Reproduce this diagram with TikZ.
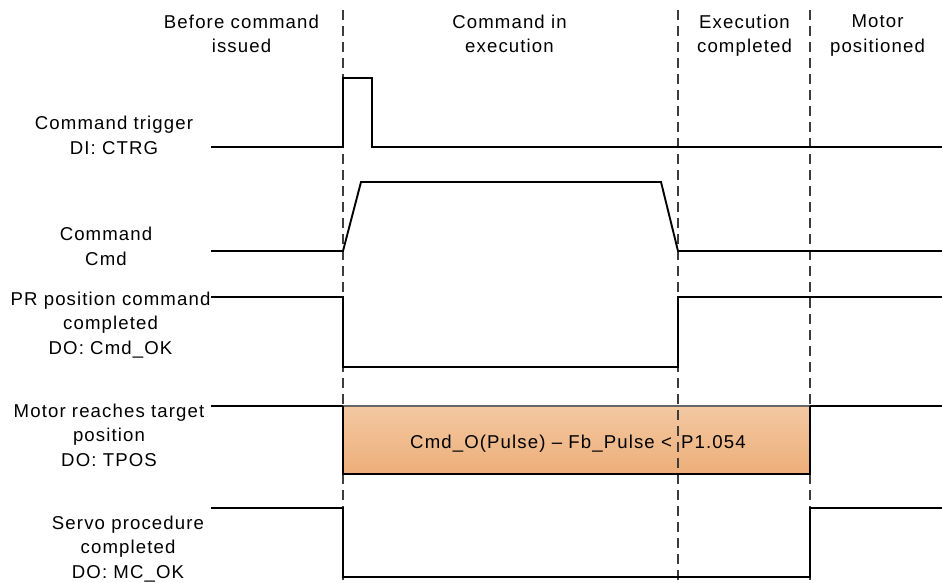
\documentclass[tikz,border=0pt]{standalone}
\usepackage{fontspec}
\setmainfont{Liberation Sans}[LetterSpace=6]
\definecolor{boxtop}{RGB}{243,200,162}
\definecolor{boxbot}{RGB}{237,174,121}
\definecolor{guidecol}{RGB}{60,60,60}
\tikzset{
  lbl/.style={font=\fontsize{18.6}{24.5}\selectfont, align=center, inner sep=0pt, anchor=north, text=black},
  sig/.style={line width=1.9pt, black, line join=miter},
  guide/.style={line width=1.4pt, guidecol, dash pattern=on 10pt off 6pt},
  boxedge/.style={line width=1.6pt, black!60},
}
\begin{document}
\begin{tikzpicture}[x=1pt, y=-1pt]
\useasboundingbox (0,0) rectangle (942,583);
% ---- TPOS box ----
\coordinate (bxTL) at (343,406);
\coordinate (bxBR) at (810,474);
\shade[top color=boxtop, bottom color=boxbot] (bxTL) rectangle (bxBR);
\node[font=\fontsize{18.6}{24.5}\selectfont, inner sep=0pt, anchor=base, text=black] (boxtxt) at (578,448) {Cmd\_O(Pulse) \textendash{} Fb\_Pulse <\ \kern3pt P1.054};
% ---- guide lines ----
\coordinate (g1t) at (343,10); \coordinate (g1b) at (343,583);
\coordinate (g2t) at (678,10); \coordinate (g2b) at (678,583);
\coordinate (g3t) at (810,10); \coordinate (g3b) at (810,583);
\draw[guide] (g1t) -- (g1b);
\draw[guide] (g2t) -- (g2b);
\draw[guide] (g3t) -- (g3b);
% ---- box edges ----
\draw[boxedge] (bxTL) -- (bxTL -| bxBR);
\draw[sig] (bxTL) -- (bxTL |- bxBR) -- (bxBR) -- (bxBR |- bxTL);
% ---- CTRG ----
\coordinate (c0) at (211,147);
\coordinate (c1) at (343,147);
\coordinate (c2) at (343,78);
\coordinate (c3) at (372,78);
\coordinate (c4) at (372,147);
\coordinate (c5) at (942,147);
\draw[sig] (c0) -- (c1) -- (c2) -- (c3) -- (c4) -- (c5);
% ---- Cmd ----
\coordinate (m0) at (211,251);
\coordinate (m1) at (343,251);
\coordinate (m2) at (361,182);
\coordinate (m3) at (661,182);
\coordinate (m4) at (678,251);
\coordinate (m5) at (942,251);
\draw[sig] (m0) -- (m1) -- (m2) -- (m3) -- (m4) -- (m5);
% ---- Cmd_OK ----
\coordinate (k0) at (211,297);
\coordinate (k1) at (343,297);
\coordinate (k2) at (343,367);
\coordinate (k3) at (678,367);
\coordinate (k4) at (678,297);
\coordinate (k5) at (942,297);
\draw[sig] (k0) -- (k1) -- (k2) -- (k3) -- (k4) -- (k5);
% ---- TPOS ----
\coordinate (t0) at (211,406);
\coordinate (t2) at (810,406);
\coordinate (t3) at (942,406);
\draw[sig] (t0) -- (bxTL);
\draw[sig] (t2) -- (t3);
% ---- MC_OK ----
\coordinate (p0) at (211,508);
\coordinate (p1) at (343,508);
\coordinate (p2) at (343,577);
\coordinate (p3) at (810,577);
\coordinate (p4) at (810,508);
\coordinate (p5) at (942,508);
\draw[sig] (p0) -- (p1) -- (p2) -- (p3) -- (p4) -- (p5);
% ---- top labels ----
\node[lbl] (h1) at (241.5,14.8) {Before command\\issued};
\node[lbl] (h2) at (509.5,14.8) {Command in\\execution};
\node[lbl] (h3) at (744.5,14.8) {Execution\\completed};
\node[lbl] (h4) at (877.5,14.8) {Motor\\positioned};
% ---- left labels ----
\node[lbl] (l1) at (114,116) {Command trigger\\DI: CTRG};
\node[lbl] (l2) at (106,227.2) {Command\\Cmd};
\node[lbl] (l3) at (110.5,291.5) {PR position command\\completed\\DO: Cmd\_OK};
\node[lbl] (l4) at (109,403.8) {Motor reaches target\\position\\DO: TPOS};
\node[lbl] (l5) at (128,515.8) {Servo procedure\\completed\\DO: MC\_OK};
\end{tikzpicture}
\end{document}
